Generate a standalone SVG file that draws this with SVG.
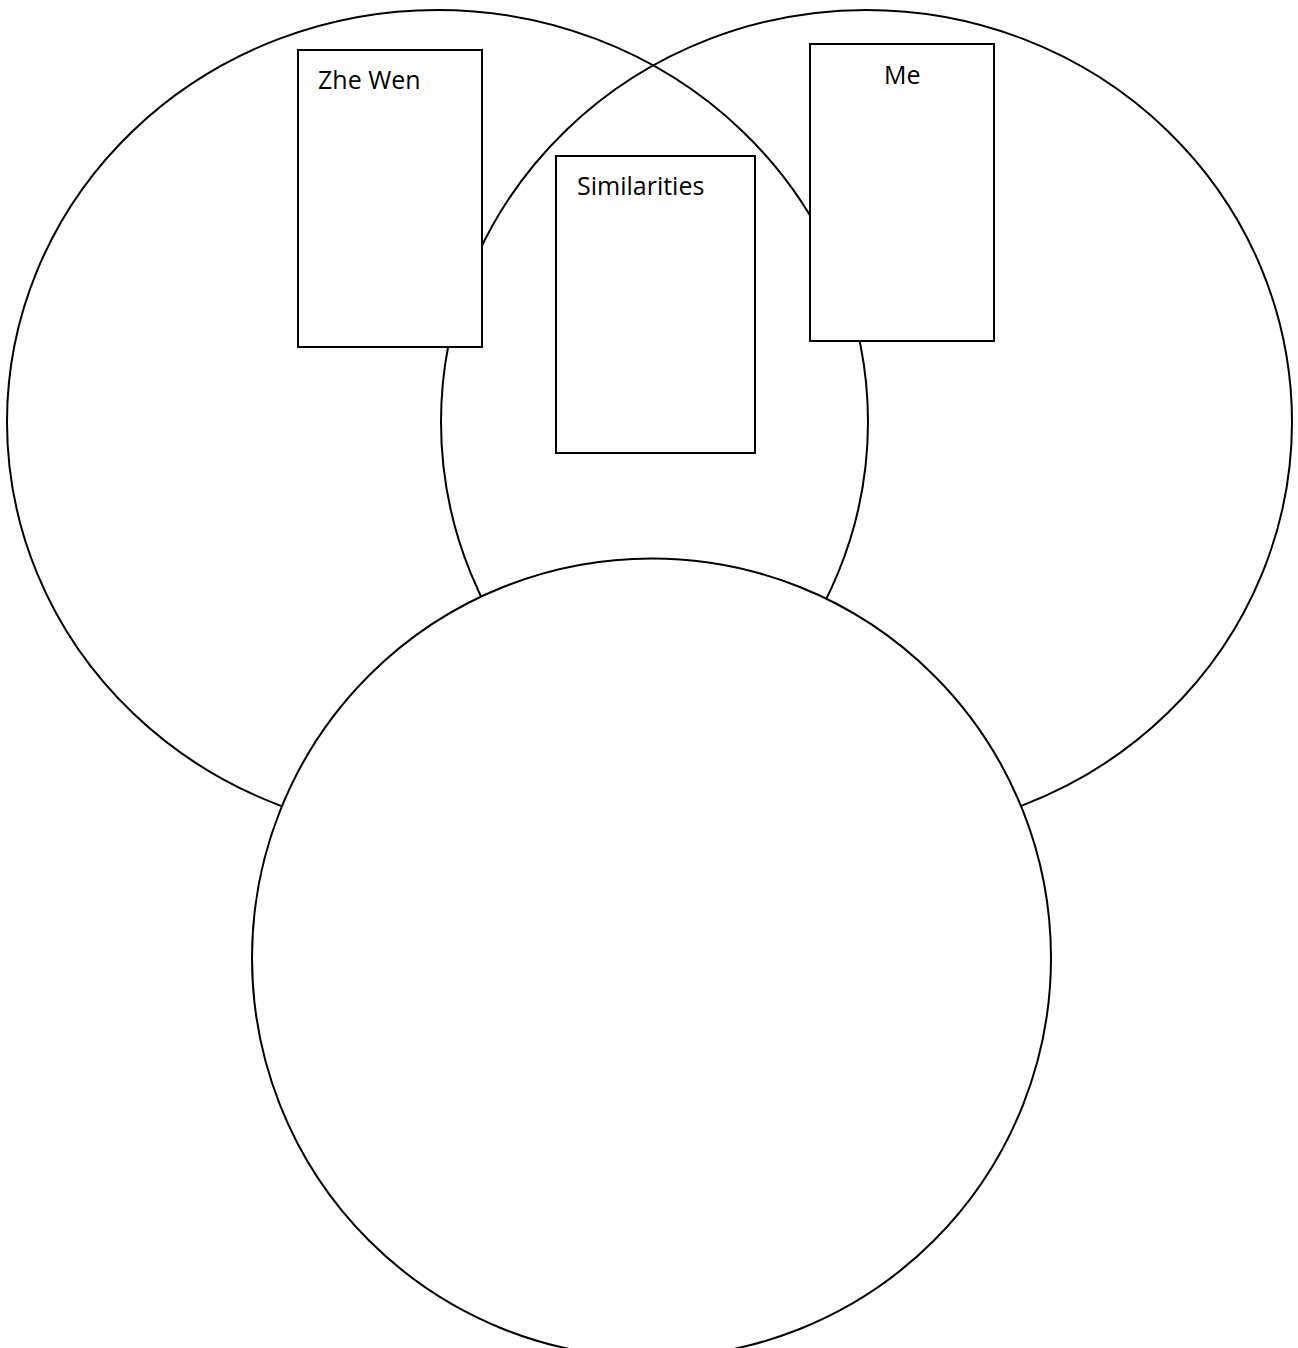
<svg xmlns="http://www.w3.org/2000/svg" width="1298" height="1348" viewBox="0 0 1298 1348">
<style>
.o{fill:none;stroke:#000;stroke-width:2}
.f{fill:#fff;stroke:#000;stroke-width:2}
.t{font-family:"Open Sans","Noto Sans","Liberation Sans",sans-serif;font-size:25px;fill:#000}
</style>
<rect width="1298" height="1348" fill="#fff"/>
<g id="left-ellipse"><ellipse class="o" cx="437.5" cy="422" rx="430.5" ry="412"/></g>
<g id="right-ellipse"><ellipse class="o" cx="866.5" cy="422" rx="425.5" ry="412"/></g>
<g id="bottom-circle"><circle class="f" cx="651.5" cy="958" r="399.5"/></g>
<g id="zhe-wen"><rect class="f" x="298" y="50" width="184" height="297"/><text class="t" x="318" y="89">Zhe Wen</text></g>
<g id="me"><rect class="f" x="810" y="44" width="184" height="297"/><text class="t" x="884" y="84">Me</text></g>
<g id="similarities"><rect class="f" x="556" y="156" width="199" height="297"/><text class="t" x="577" y="195">Similarities</text></g>
<g id="connectors"></g>
</svg>
